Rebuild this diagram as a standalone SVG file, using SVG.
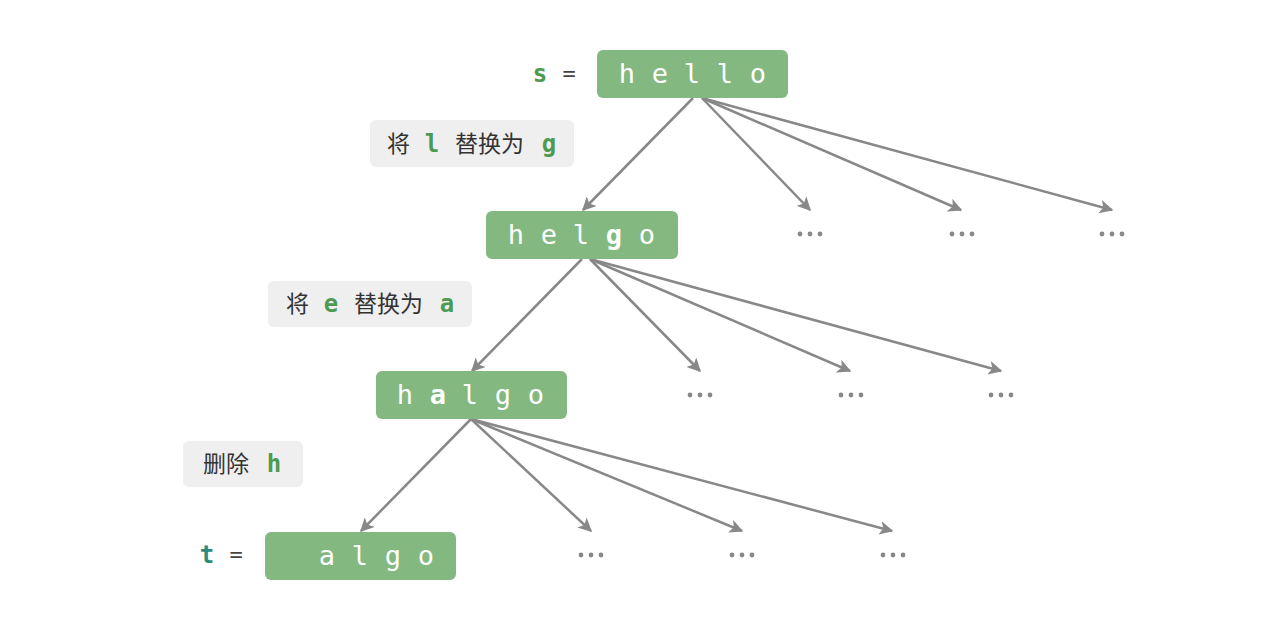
<svg xmlns="http://www.w3.org/2000/svg" width="1280" height="630" viewBox="0 0 1280 630">
<style>
.box{fill:#83b981}
.lbl{fill:#efefef}
.ch{font-family:"DejaVu Sans Mono",monospace;font-size:27px;fill:#ffffff;text-anchor:middle}
.b{font-weight:bold}
.cn{font-family:"Noto Sans CJK SC",sans-serif;font-size:23px;fill:#333333}
.gm{font-family:"DejaVu Sans Mono",monospace;font-size:24px;font-weight:bold;fill:#4d9a50;text-anchor:middle}
.eq{font-family:"DejaVu Sans Mono",monospace;font-size:22px;fill:#444444;text-anchor:middle}
.edge{stroke:#888888;stroke-width:2.5;fill:none;marker-end:url(#ah)}
.dot{fill:#888888}
</style>
<defs>
<marker id="ah" viewBox="0 0 10 10" refX="9" refY="5" markerWidth="5.5" markerHeight="5.5" orient="auto" markerUnits="strokeWidth">
<path d="M0,0 L10,5 L0,10 L2.5,5 z" fill="#888888"/>
</marker>
</defs>
<g id="connectors">
<line class="edge" x1="693" y1="98" x2="583" y2="210"/>
<line class="edge" x1="702" y1="98" x2="810" y2="210"/>
<line class="edge" x1="702" y1="98" x2="961" y2="210"/>
<line class="edge" x1="702" y1="98" x2="1112" y2="210"/>
<line class="edge" x1="582" y1="259" x2="472" y2="371"/>
<line class="edge" x1="590" y1="259" x2="700" y2="371"/>
<line class="edge" x1="590" y1="259" x2="850" y2="371"/>
<line class="edge" x1="590" y1="259" x2="1001" y2="371"/>
<line class="edge" x1="471" y1="419" x2="361" y2="531"/>
<line class="edge" x1="471" y1="419" x2="591" y2="531"/>
<line class="edge" x1="471" y1="419" x2="742" y2="531"/>
<line class="edge" x1="471" y1="419" x2="892" y2="531"/>
</g>
<g id="dots">
<circle class="dot" cx="800" cy="234" r="2.4"/><circle class="dot" cx="810" cy="234" r="2.4"/><circle class="dot" cx="820" cy="234" r="2.4"/>
<circle class="dot" cx="952" cy="234" r="2.4"/><circle class="dot" cx="962" cy="234" r="2.4"/><circle class="dot" cx="972" cy="234" r="2.4"/>
<circle class="dot" cx="1102" cy="234" r="2.4"/><circle class="dot" cx="1112" cy="234" r="2.4"/><circle class="dot" cx="1122" cy="234" r="2.4"/>
<circle class="dot" cx="690" cy="395" r="2.4"/><circle class="dot" cx="700" cy="395" r="2.4"/><circle class="dot" cx="710" cy="395" r="2.4"/>
<circle class="dot" cx="841" cy="395" r="2.4"/><circle class="dot" cx="851" cy="395" r="2.4"/><circle class="dot" cx="861" cy="395" r="2.4"/>
<circle class="dot" cx="991" cy="395" r="2.4"/><circle class="dot" cx="1001" cy="395" r="2.4"/><circle class="dot" cx="1011" cy="395" r="2.4"/>
<circle class="dot" cx="581" cy="555" r="2.4"/><circle class="dot" cx="591" cy="555" r="2.4"/><circle class="dot" cx="601" cy="555" r="2.4"/>
<circle class="dot" cx="732" cy="555" r="2.4"/><circle class="dot" cx="742" cy="555" r="2.4"/><circle class="dot" cx="752" cy="555" r="2.4"/>
<circle class="dot" cx="883" cy="555" r="2.4"/><circle class="dot" cx="893" cy="555" r="2.4"/><circle class="dot" cx="903" cy="555" r="2.4"/>
</g>
<g id="s">
<text class="gm" x="540" y="82">s</text>
<text class="eq" x="569" y="81">=</text>
<rect class="box" x="597" y="50" width="191" height="48" rx="6"/>
<text class="ch" x="627" y="83">h</text><text class="ch" x="660" y="83">e</text><text class="ch" x="692" y="83">l</text><text class="ch" x="725" y="83">l</text><text class="ch" x="758" y="83">o</text>
</g>
<g id="op1">
<rect class="lbl" x="370" y="120" width="204" height="47" rx="6"/>
<text class="cn" x="387" y="152">将</text>
<text class="gm" x="432" y="152">l</text>
<text class="cn" x="455" y="152">替换为</text>
<text class="gm" x="549" y="152">g</text>
</g>
<g id="helgo">
<rect class="box" x="486" y="211" width="192" height="48" rx="6"/>
<text class="ch" x="516" y="244">h</text><text class="ch" x="549" y="244">e</text><text class="ch" x="581" y="244">l</text><text class="ch b" x="614" y="244">g</text><text class="ch" x="647" y="244">o</text>
</g>
<g id="op2">
<rect class="lbl" x="268" y="281" width="204" height="46" rx="6"/>
<text class="cn" x="286" y="312">将</text>
<text class="gm" x="331" y="312">e</text>
<text class="cn" x="354" y="312">替换为</text>
<text class="gm" x="447" y="312">a</text>
</g>
<g id="halgo">
<rect class="box" x="376" y="371" width="191" height="48" rx="6"/>
<text class="ch" x="405" y="404">h</text><text class="ch b" x="438" y="404">a</text><text class="ch" x="470" y="404">l</text><text class="ch" x="503" y="404">g</text><text class="ch" x="536" y="404">o</text>
</g>
<g id="op3">
<rect class="lbl" x="183" y="441" width="120" height="46" rx="6"/>
<text class="cn" x="203" y="472">删除</text>
<text class="gm" x="274" y="472">h</text>
</g>
<g id="t">
<text class="gm" x="207" y="563" style="fill:#2e8b7c">t</text>
<text class="eq" x="236" y="562">=</text>
<rect class="box" x="265" y="532" width="191" height="48" rx="6"/>
<text class="ch" x="327" y="565">a</text><text class="ch" x="360" y="565">l</text><text class="ch" x="393" y="565">g</text><text class="ch" x="426" y="565">o</text>
</g>
</svg>
